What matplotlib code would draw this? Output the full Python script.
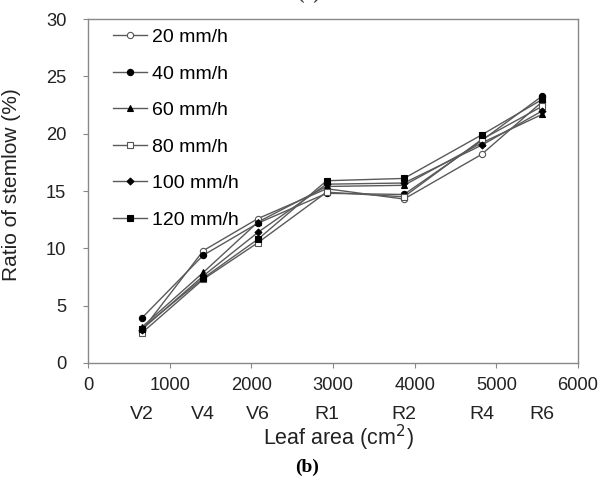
import numpy as np
import matplotlib.pyplot as plt
import matplotlib.transforms as mtransforms

plt.rcParams['font.family'] = ['Liberation Sans', 'DejaVu Sans']

# leaf area at each growth stage
leaf_area = [657, 1412, 2082, 2922, 3869, 4820, 5563]
stages = ['V2', 'V4', 'V6', 'R1', 'R2', 'R4', 'R6']

# ratio of stemflow (%) by rainfall intensity
r20 = [2.8, 9.8, 12.6, 15.2, 14.3, 18.2, 22.8]
r40 = [3.9, 9.4, 12.2, 14.8, 14.7, 19.4, 23.3]
r60 = [3.1, 7.9, 12.3, 15.4, 15.5, 19.2, 21.7]
r80 = [2.6, 7.3, 10.5, 14.9, 14.5, 19.5, 22.4]
r100 = [2.9, 7.6, 11.4, 15.6, 15.7, 19.0, 22.0]
r120 = [3.0, 7.4, 10.8, 15.9, 16.1, 19.9, 23.0]

series = [
    ('20 mm/h', r20, 'o', 'white'),
    ('40 mm/h', r40, 'o', 'black'),
    ('60 mm/h', r60, '^', 'black'),
    ('80 mm/h', r80, 's', 'white'),
    ('100 mm/h', r100, 'D', 'black'),
    ('120 mm/h', r120, 's', 'black'),
]
sizes = {'o': 4.5, '^': 4.5, 's': 4.5, 'D': 3.5}
txt = '#222222'

fig = plt.figure(figsize=(6.03, 4.8), dpi=100)
ax = fig.add_axes([0.146, 0.244, 0.8125, 0.716])

for label, vals, mk, fc in series:
    ec = '#555555' if fc == 'white' else 'black'
    ax.plot(leaf_area, vals, color='#5a5a5a', linewidth=1.0, marker=mk,
            markersize=sizes[mk], markerfacecolor=fc, markeredgecolor=ec,
            markeredgewidth=0.8, label=label)

ax.set_xlim(0, 6000)
ax.set_ylim(0, 30)
ax.set_xticks(np.arange(0, 6001, 1000))
ax.set_yticks(np.arange(0, 31, 5))
for s in ax.spines.values():
    s.set_color('#888888')
    s.set_linewidth(1.0)
ax.tick_params(direction='out', length=3.6, color='#888888', labelsize=13.2,
               labelcolor=txt)
ax.tick_params(axis='x', pad=6.5)
ax.tick_params(axis='y', pad=12)

# growth stage labels under the leaf area ticks
trans = mtransforms.blended_transform_factory(ax.transData, ax.transAxes)
for xa, st in zip(leaf_area, stages):
    ax.text(xa, -0.125, st, transform=trans, ha='center', va='top',
            fontsize=14, color=txt)

ax.set_ylabel('Ratio of stemlow (%)', fontsize=15, color=txt)
ax.yaxis.set_label_coords(-0.136, 0.519)
fig.text(0.562, 0.0875, 'Leaf area (cm$^2$)', ha='center', va='center',
         fontsize=15.5, color=txt)
fig.text(0.509, 0.026, '(b)', ha='center', va='center', fontsize=14,
         fontweight='bold', family='Liberation Serif')
fig.text(0.512, 0.994, '(a)', ha='center', va='bottom', fontsize=14,
         fontweight='bold', family='Liberation Serif', color='#444444')

ax.legend(loc='upper left', frameon=False, fontsize=14, handlelength=1.75,
          handletextpad=0.26, labelspacing=0.97, borderaxespad=0.3,
          bbox_to_anchor=(0.023, 1.012))

fig.savefig('out.png', dpi=100)
